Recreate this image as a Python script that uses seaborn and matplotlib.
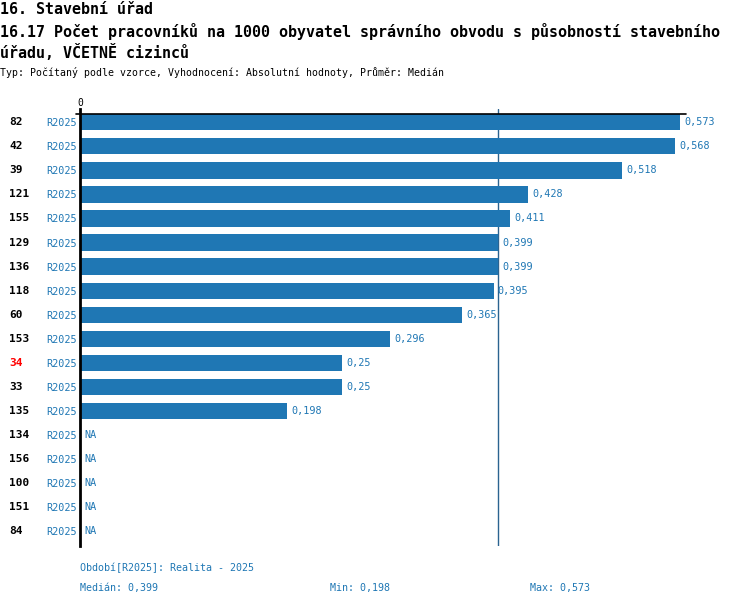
import matplotlib
matplotlib.use("Agg")
import matplotlib.pyplot as plt
import numpy as np
import pandas as pd
import seaborn as sns

# data
ids = ["82", "42", "39", "121", "155", "129", "136", "118", "60", "153",
       "34", "33", "135", "134", "156", "100", "151", "84"]
values = [0.573, 0.568, 0.518, 0.428, 0.411, 0.399, 0.399, 0.395, 0.365, 0.296,
          0.25, 0.25, 0.198, np.nan, np.nan, np.nan, np.nan, np.nan]
period = "R2025"
highlight = "34"

title1 = "16. Stavební úřad"
title2 = "16.17 Počet pracovníků na 1000 obyvatel správního obvodu s působností stavebního"
title3 = "úřadu, VČETNĚ cizinců"
subtitle = "Typ: Počítaný podle vzorce, Vyhodnocení: Absolutní hodnoty, Průměr: Medián"
period_note = "Období[R2025]: Realita - 2025"

blue = "#1f77b4"
mono = ["DejaVu Sans Mono"]


def fmt(v):
    return f"{v:.3f}".rstrip("0").rstrip(".").replace(".", ",")


df = pd.DataFrame({"id": ids, "value": values})

sns.set_style("white")
plt.rcParams["font.family"] = mono
plt.rcParams["text.color"] = "black"

W, H = 750, 606
fig = plt.figure(figsize=(W / 100, H / 100), dpi=100)
ax = fig.add_axes([80 / W, 1 - 546 / H, 670 / W, (546 - 109) / H])

sns.barplot(data=df.dropna(), x="value", y="id", order=ids, orient="h",
            color=blue, saturation=1, width=0.68, linewidth=0, ax=ax)

ax.set_xlim(0, 670 / 1047)
ax.set_ylim(17.61, -0.55)

for s in ["top", "right", "bottom"]:
    ax.spines[s].set_visible(False)
ax.spines["left"].set_linewidth(2)
ax.spines["left"].set_color("black")

ax.set_xlabel("")
ax.set_ylabel("")
ax.xaxis.tick_top()
ax.set_xticks([0])
ax.set_xticklabels(["0"], fontsize=7, color="black")
ax.tick_params(axis="x", length=0, pad=1)
ax.set_yticks(range(len(ids)))
ax.set_yticklabels([period] * len(ids), fontsize=7.3, color=blue)
ax.tick_params(axis="y", length=0, pad=2)

# median line
med = np.nanmedian(values)
ax.axvline(med, color="#2a6390", lw=1, zorder=0)

# top scale line
vmax = np.nanmax(values)
ax.plot([-0.004, vmax + 0.006], [-0.34, -0.34], color="black", lw=1.2,
        clip_on=False)

ytr = ax.get_yaxis_transform()
for i, (rid, v) in enumerate(zip(ids, values)):
    ax.text(-0.106, i, rid, transform=ytr, ha="left", va="center",
            fontsize=8, fontweight="bold",
            color="red" if rid == highlight else "black")
    if np.isnan(v):
        ax.text(0.004, i, "NA", ha="left", va="center", fontsize=7.3, color=blue)
    else:
        ax.text(v + 0.004, i, fmt(v), ha="left", va="center", fontsize=7.3,
                color=blue)

# titles
fig.text(0, 1 - 10 / H, title1, fontsize=10.8, fontweight="bold", va="center")
fig.text(0, 1 - 31 / H, title2, fontsize=10.8, fontweight="bold", va="center")
fig.text(0, 1 - 52 / H, title3, fontsize=10.8, fontweight="bold", va="center")
fig.text(0, 1 - 73 / H, subtitle, fontsize=7.1, va="center")

# footer
fig.text(80 / W, 1 - 568 / H, period_note, fontsize=7.2, color=blue, va="center")
fig.text(80 / W, 1 - 588 / H, "Medián: " + fmt(med), fontsize=7.2, color=blue,
         va="center")
fig.text(330 / W, 1 - 588 / H, "Min: " + fmt(np.nanmin(values)), fontsize=7.2,
         color=blue, va="center")
fig.text(530 / W, 1 - 588 / H, "Max: " + fmt(vmax), fontsize=7.2, color=blue,
         va="center")

fig.savefig("out.png", dpi=100)
